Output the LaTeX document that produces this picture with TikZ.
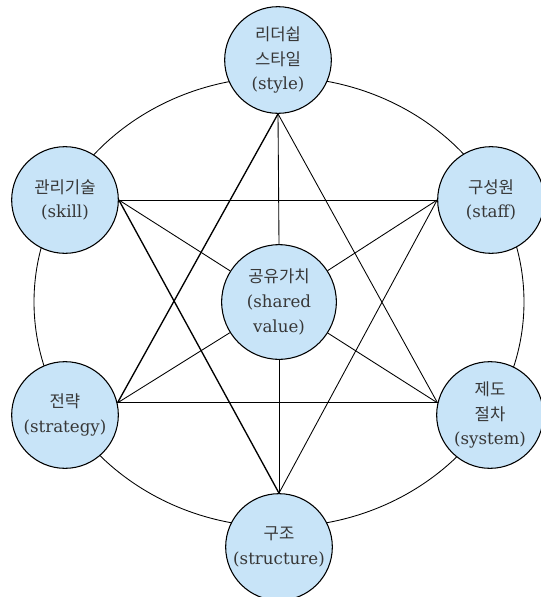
\documentclass[tikz,border=0pt]{standalone}
\usepackage{fontspec}
\setmainfont{DejaVu Serif}
\newfontfamily\kr{Noto Sans CJK KR}
\definecolor{nodeblue}{RGB}{200,228,248}
\definecolor{textgray}{RGB}{55,55,55}

\begin{document}
\begin{tikzpicture}[x=0.75pt,y=-0.75pt,
  factor/.style={circle,draw,line width=0.8pt,fill=nodeblue,minimum size=80pt,
    inner sep=0pt,align=center,text=textgray,font=\fontsize{12.5}{18.5}\selectfont},
  link/.style={line width=0.65pt},
  boldlink/.style={line width=1pt}]
  \useasboundingbox (0,0) rectangle (540,597);
  % outer ring
  \draw[link] (279,302) ellipse [x radius=245, y radius=225];
  % the seven factors
  \node[factor] (style) at (278,60) {{\kr 리더쉽}\\{\kr 스타일}\\(style)};
  \node[factor] (skill) at (65,200) {{\kr 관리기술}\\(skill)};
  \node[factor] (staff) at (491,200) {{\kr 구성원}\\(staff)};
  \node[factor,minimum size=86pt] (shared) at (279,302) {{\kr 공유가치}\\(shared\\value)};
  \node[factor] (strategy) at (65,415) {{\kr 전략}\\(strategy)};
  \node[factor] (system) at (490,415) {{\kr 제도}\\{\kr 절차}\\(system)};
  \node[factor] (structure) at (279,547) {{\kr 구조}\\(structure)};
  % where the lines meet the lower circles
  \coordinate (strategy-in) at (strategy.13);
  \coordinate (system-in) at (system.167);
  % star
  \draw[boldlink] (style.south) -- (strategy-in);
  \draw[link] (style.south) -- (system-in);
  \draw[boldlink] (structure.north) -- (skill.east);
  \draw[link] (structure.north) -- (staff.west);
  \draw[link] (skill.east) -- (staff.west);
  \draw[link] (strategy-in) -- (system-in);
  % spokes to the centre
  \draw[link] (style.south) -- (shared.north);
  \draw[link] (structure.north) -- (shared.south);
  \foreach \p in {skill.east,staff.west,strategy-in,system-in}
    \draw[link] (\p) -- (shared);
\end{tikzpicture}
\end{document}
